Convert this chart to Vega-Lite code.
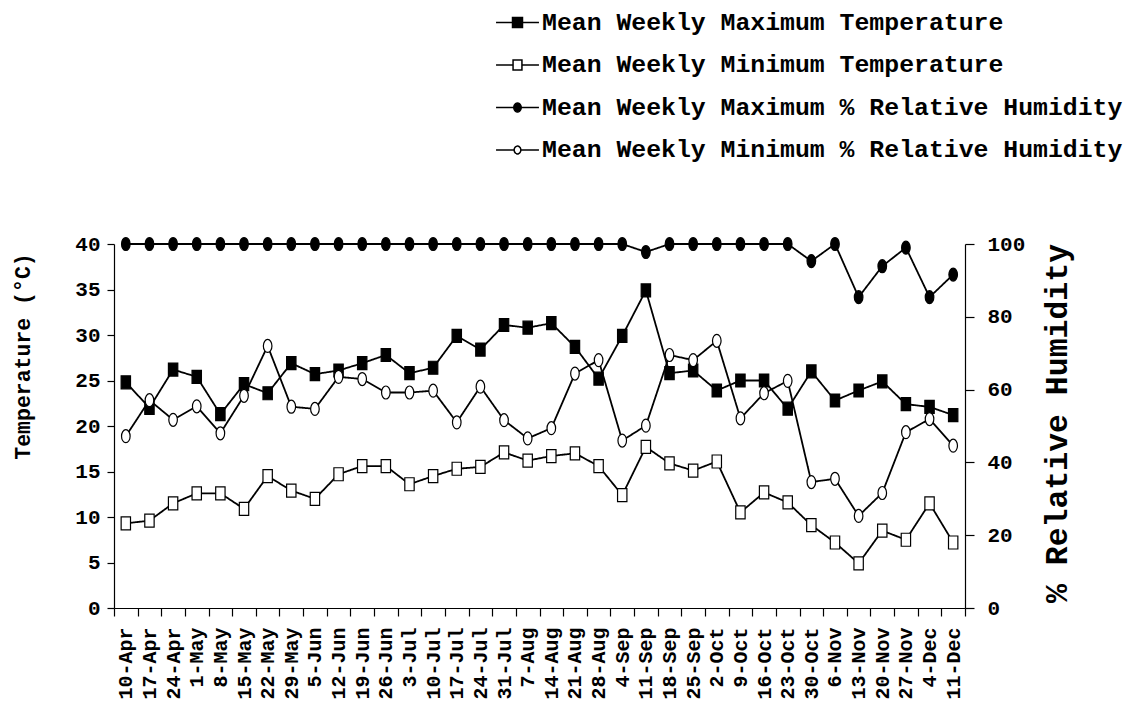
{
  "$schema": "https://vega.github.io/schema/vega-lite/v6.json",
  "width": 851,
  "height": 364,
  "autosize": {"type": "none"},
  "padding": {"left": 114, "top": 244, "right": 163, "bottom": 94},
  "background": "white",
  "config": {
    "font": "Liberation Mono",
    "view": {"stroke": null},
    "axis": {"grid": false, "domainColor": "black", "tickColor": "black", "labelColor": "black", "titleColor": "black", "domainWidth": 1.2, "tickWidth": 1.2, "labelFontWeight": "bold", "titleFontWeight": "bold"}
  },
  "data": {"values": [
    {"week": "10-Apr", "tmax": 24.8, "tmin": 9.3, "rhmax": 100, "rhmin": 47.2},
    {"week": "17-Apr", "tmax": 22.0, "tmin": 9.6, "rhmax": 100, "rhmin": 57.1},
    {"week": "24-Apr", "tmax": 26.2, "tmin": 11.5, "rhmax": 100, "rhmin": 51.7},
    {"week": "1-May", "tmax": 25.4, "tmin": 12.6, "rhmax": 100, "rhmin": 55.4},
    {"week": "8-May", "tmax": 21.3, "tmin": 12.6, "rhmax": 100, "rhmin": 48.0},
    {"week": "15-May", "tmax": 24.6, "tmin": 10.9, "rhmax": 100, "rhmin": 58.3},
    {"week": "22-May", "tmax": 23.6, "tmin": 14.5, "rhmax": 100, "rhmin": 72.0},
    {"week": "29-May", "tmax": 26.9, "tmin": 12.9, "rhmax": 100, "rhmin": 55.3},
    {"week": "5-Jun", "tmax": 25.7, "tmin": 12.0, "rhmax": 100, "rhmin": 54.7},
    {"week": "12-Jun", "tmax": 26.1, "tmin": 14.7, "rhmax": 100, "rhmin": 63.5},
    {"week": "19-Jun", "tmax": 26.9, "tmin": 15.6, "rhmax": 100, "rhmin": 62.9},
    {"week": "26-Jun", "tmax": 27.8, "tmin": 15.6, "rhmax": 100, "rhmin": 59.2},
    {"week": "3-Jul", "tmax": 25.8, "tmin": 13.6, "rhmax": 100, "rhmin": 59.2},
    {"week": "10-Jul", "tmax": 26.4, "tmin": 14.5, "rhmax": 100, "rhmin": 59.7},
    {"week": "17-Jul", "tmax": 29.9, "tmin": 15.3, "rhmax": 100, "rhmin": 51.0},
    {"week": "24-Jul", "tmax": 28.4, "tmin": 15.5, "rhmax": 100, "rhmin": 60.8},
    {"week": "31-Jul", "tmax": 31.1, "tmin": 17.1, "rhmax": 100, "rhmin": 51.6},
    {"week": "7-Aug", "tmax": 30.8, "tmin": 16.2, "rhmax": 100, "rhmin": 46.6},
    {"week": "14-Aug", "tmax": 31.3, "tmin": 16.7, "rhmax": 100, "rhmin": 49.4},
    {"week": "21-Aug", "tmax": 28.7, "tmin": 17.0, "rhmax": 100, "rhmin": 64.4},
    {"week": "28-Aug", "tmax": 25.2, "tmin": 15.6, "rhmax": 100, "rhmin": 68.1},
    {"week": "4-Sep", "tmax": 29.9, "tmin": 12.4, "rhmax": 100, "rhmin": 46.0},
    {"week": "11-Sep", "tmax": 34.9, "tmin": 17.7, "rhmax": 97.8, "rhmin": 50.1},
    {"week": "18-Sep", "tmax": 25.8, "tmin": 15.9, "rhmax": 100, "rhmin": 69.5},
    {"week": "25-Sep", "tmax": 26.1, "tmin": 15.1, "rhmax": 100, "rhmin": 68.1},
    {"week": "2-Oct", "tmax": 23.9, "tmin": 16.1, "rhmax": 100, "rhmin": 73.4},
    {"week": "9-Oct", "tmax": 25.0, "tmin": 10.5, "rhmax": 100, "rhmin": 52.1},
    {"week": "16-Oct", "tmax": 25.0, "tmin": 12.7, "rhmax": 100, "rhmin": 59.0},
    {"week": "23-Oct", "tmax": 21.9, "tmin": 11.6, "rhmax": 100, "rhmin": 62.4},
    {"week": "30-Oct", "tmax": 26.0, "tmin": 9.1, "rhmax": 95.3, "rhmin": 34.6},
    {"week": "6-Nov", "tmax": 22.8, "tmin": 7.2, "rhmax": 100, "rhmin": 35.5},
    {"week": "13-Nov", "tmax": 23.9, "tmin": 4.9, "rhmax": 85.4, "rhmin": 25.3},
    {"week": "20-Nov", "tmax": 24.9, "tmin": 8.5, "rhmax": 93.9, "rhmin": 31.6},
    {"week": "27-Nov", "tmax": 22.4, "tmin": 7.5, "rhmax": 99.0, "rhmin": 48.3},
    {"week": "4-Dec", "tmax": 22.1, "tmin": 11.5, "rhmax": 85.4, "rhmin": 51.9},
    {"week": "11-Dec", "tmax": 21.2, "tmin": 7.2, "rhmax": 91.6, "rhmin": 44.6}
  ]},
  "encoding": {
    "x": {
      "field": "week", "type": "ordinal",
      "scale": {"type": "band", "paddingInner": 0, "paddingOuter": 0,
        "domain": ["10-Apr","17-Apr","24-Apr","1-May","8-May","15-May","22-May","29-May","5-Jun","12-Jun","19-Jun","26-Jun","3-Jul","10-Jul","17-Jul","24-Jul","31-Jul","7-Aug","14-Aug","21-Aug","28-Aug","4-Sep","11-Sep","18-Sep","25-Sep","2-Oct","9-Oct","16-Oct","23-Oct","30-Oct","6-Nov","13-Nov","20-Nov","27-Nov","4-Dec","11-Dec"]},
      "axis": {"title": null, "labelAngle": -90, "labelFontSize": 20, "tickBand": "extent", "tickSize": 8, "labelPadding": 11}
    }
  },
  "layer": [
    {
      "transform": [{"fold": ["tmax", "tmin"], "as": ["series", "value"]}],
      "encoding": {
        "y": {"field": "value", "type": "quantitative",
          "scale": {"domain": [0, 40], "nice": false, "zero": true},
          "axis": {"orient": "left", "values": [0,5,10,15,20,25,30,35,40], "title": "Temperature (°C)", "titleFontSize": 21.5, "titleAngle": 270, "titleX": -91, "titleY": 112, "titleAlign": "center", "titleBaseline": "middle", "labelFontSize": 21, "tickSize": 7, "labelPadding": 7}}
      },
      "layer": [
        {"mark": {"type": "line", "color": "black", "strokeWidth": 1.8},
          "encoding": {
            "strokeDash": {"field": "series", "type": "nominal",
              "scale": {"domain": ["tmax", "tmin", "rhmax", "rhmin"], "range": [[1, 0], [1, 0], [1, 0], [1, 0]]},
              "legend": {
                "title": null, "orient": "none", "legendX": 384, "legendY": -241, "direction": "vertical",
                "symbolSize": 1369, "rowPadding": 10.5, "labelOffset": 5, "padding": 0,
                "symbolType": {"expr": "datum.value == 'tmax' ? 'M-1.16,0H1.16M-0.27,-0.27H0.27V0.27H-0.27Z' : datum.value == 'tmin' ? 'M-1.16,0H-0.24M0.24,0H1.16M-0.24,-0.27H0.24V0.27H-0.24Z' : datum.value == 'rhmax' ? 'M-1.16,0H1.16M0,-0.24A0.2,0.24 0 1 1 0,0.24A0.2,0.24 0 1 1 0,-0.24Z' : 'M-1.16,0H-0.18M0.18,0H1.16M0,-0.21A0.18,0.21 0 1 1 0,0.21A0.18,0.21 0 1 1 0,-0.21Z'"},
                "symbolFillColor": {"expr": "datum.value == 'tmax' || datum.value == 'rhmax' ? 'black' : 'white'"},
                "symbolStrokeColor": "black",
                "symbolStrokeWidth": 1.5,
                "symbolOpacity": 1,
                "labelFont": "Liberation Mono", "labelFontSize": 24.8, "labelFontWeight": "bold", "labelColor": "black", "labelLimit": 0,
                "labelExpr": "datum.value == 'tmax' ? 'Mean Weekly Maximum Temperature' : datum.value == 'tmin' ? 'Mean Weekly Minimum Temperature' : datum.value == 'rhmax' ? 'Mean Weekly Maximum % Relative Humidity' : 'Mean Weekly Minimum % Relative Humidity'"
              }}
          }},
        {"mark": {"type": "point", "filled": true, "stroke": "black", "strokeWidth": 1.2, "opacity": 1, "size": 169, "shape": "M-0.72,-1H0.72V1H-0.72Z"},
          "encoding": {
            "fill": {"field": "series", "type": "nominal", "legend": null,
              "scale": {"domain": ["tmax", "tmin", "rhmax", "rhmin"], "range": ["black", "white", "black", "white"]}}
          }}
      ]
    },
    {
      "transform": [{"fold": ["rhmax", "rhmin"], "as": ["series", "value"]}],
      "encoding": {
        "y": {"field": "value", "type": "quantitative",
          "scale": {"domain": [0, 100], "nice": false},
          "axis": {"orient": "right", "values": [0,20,40,60,80,100], "title": "% Relative Humidity", "titleFontSize": 31.5, "titleAngle": 270, "titleX": 92, "titleY": 179, "titleAlign": "center", "titleBaseline": "middle", "labelFontSize": 21, "tickSize": 9, "labelPadding": 13}}
      },
      "layer": [
        {"mark": {"type": "line", "color": "black", "strokeWidth": 1.8},
          "encoding": {"strokeDash": {"field": "series", "type": "nominal"}}},
        {"mark": {"type": "point", "filled": true, "stroke": "black", "strokeWidth": 1.2, "opacity": 1, "size": 169, "shape": "M0,-1A0.66,1 0 1 1 0,1A0.66,1 0 1 1 0,-1Z"},
          "encoding": {
            "fill": {"field": "series", "type": "nominal", "legend": null}
          }}
      ]
    }
  ],
  "resolve": {"scale": {"y": "independent"}}
}
